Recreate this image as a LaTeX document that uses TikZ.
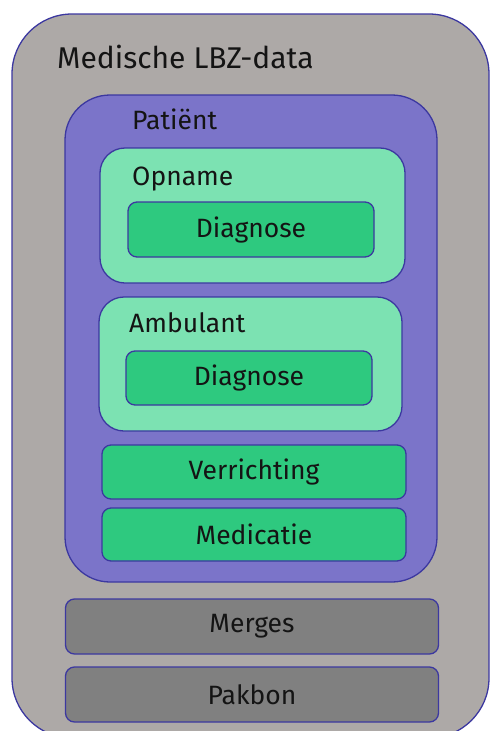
\documentclass[tikz,border=0pt]{standalone}
\usepackage{fontspec}
\setmainfont{Fira Sans}
\usetikzlibrary{shapes}
\definecolor{edgeblue}{RGB}{60, 56, 160}
\definecolor{lbzgray}{RGB}{173, 169, 167}
\definecolor{patientblue}{RGB}{123, 116, 201}
\definecolor{visitgreen}{RGB}{124, 226, 178}
\definecolor{itemgreen}{RGB}{46, 201, 127}
\definecolor{extragray}{RGB}{128, 128, 128}
\definecolor{inkblack}{RGB}{20, 20, 20}
\tikzstyle{shell}=[draw=edgeblue,line width=1.3pt,inner sep=0pt]
\tikzstyle{lbzbox}=[shell,fill=lbzgray,rounded corners=60pt]
\tikzstyle{patientbox}=[shell,fill=patientblue,rounded corners=45pt]
\tikzstyle{visitbox}=[shell,fill=visitgreen,rounded corners=25pt]
\tikzstyle{itembox}=[shell,fill=itemgreen,rounded corners=9pt,text=inkblack,font=\fontsize{26.5}{30}\selectfont]
\tikzstyle{extrabox}=[shell,fill=extragray,rounded corners=9pt,text=inkblack,font=\fontsize{26.5}{30}\selectfont]
\tikzstyle{boxlabel}=[anchor=base west,inner sep=0pt,text=inkblack,font=\fontsize{26.5}{30}\selectfont]
\tikzstyle{titlelabel}=[boxlabel,font=\fontsize{30}{34}\selectfont]

\begin{document}
\begin{tikzpicture}[x=1pt,y=-1pt]

\useasboundingbox (0,0) rectangle (490,731);

\node[lbzbox,minimum width=477pt,minimum height=724pt] (LBZ) at (250.5,376) {};
\node[titlelabel] (LBZlabel) at (57,68) {Medische LBZ-data};

\node[patientbox,minimum width=372pt,minimum height=487pt] (P) at (251,338.5) {};
\node[boxlabel] (Plabel) at (132,129) {Patiënt};

\node[visitbox,minimum width=305pt,minimum height=135pt] (OP) at (252.5,215.5) {};
\node[boxlabel] (OPlabel) at (132,185) {Opname};
\node[itembox,minimum width=246pt,minimum height=55pt] (OPD) at (251,229.5) {Diagnose};

\node[visitbox,minimum width=303pt,minimum height=134pt] (AM) at (250.5,364) {};
\node[boxlabel] (AMlabel) at (129,332) {Ambulant};
\node[itembox,minimum width=246pt,minimum height=54pt] (AMD) at (249,378) {Diagnose};

\node[itembox,minimum width=304pt,minimum height=54pt] (V) at (254,472) {Verrichting};
\node[itembox,minimum width=304pt,minimum height=53pt] (M) at (254,534.5) {Medicatie};

\node[extrabox,minimum width=373pt,minimum height=55pt] (MG) at (252,626.5) {Merges};
\node[extrabox,minimum width=373pt,minimum height=55pt] (PB) at (252,694.5) {Pakbon};

\end{tikzpicture}
\end{document}
